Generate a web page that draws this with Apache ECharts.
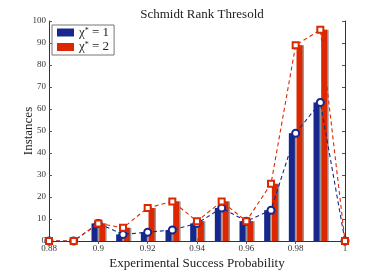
<!DOCTYPE html>
<html><head><meta charset="utf-8">
<script src="https://cdn.jsdelivr.net/npm/echarts@6/dist/echarts.min.js"></script>
<style>html,body{margin:0;padding:0;background:#fff}#c{width:381px;height:275px}</style>
</head><body><div id="c"></div>
<script>
var categories = ['0.88','0.89','0.9','0.91','0.92','0.93','0.94','0.95','0.96','0.97','0.98','0.99','1'];
var chi1 = [0,0,8,3,4,5,8,15,9,14,49,63,0];
var chi2 = [0,0,8,6,15,18,9,18,9,26,89,96,0];
var blue = '#16288c', red = '#dc2800';
var F = 'Liberation Serif';
var chart = echarts.init(document.getElementById('c'));
var axisLine = {show:true, lineStyle:{color:'#333', width:1}};
chart.setOption({
  animation:false,
  title:{text:'Schmidt Rank Thresold', left:197, top:3, textAlign:'center',
    textStyle:{fontFamily:F, fontSize:13, fontWeight:'normal', color:'#222'}},
  legend:{left:52, top:25, orient:'vertical', itemWidth:17, itemHeight:8, itemGap:1,
    padding:[1,5,1,5], backgroundColor:'#fff', borderColor:'#777', borderWidth:1, borderRadius:0,
    data:[{name:'chi1', icon:'rect'},{name:'chi2', icon:'rect'}],
    formatter:function(n){return n==='chi1' ? '{a|χ}{s|*}{a| = 1}' : '{a|χ}{s|*}{a| = 2}';},
    textStyle:{fontFamily:F, fontSize:13, color:'#222', lineHeight:12,
      rich:{a:{fontFamily:F, fontSize:13, color:'#222', lineHeight:12}, s:{fontFamily:F, fontSize:8, color:'#222', lineHeight:12, verticalAlign:'top', padding:[0,0,5,0]}}}
  },
  grid:{left:49, right:36, top:21, bottom:31},
  xAxis:[{type:'category', data:categories, boundaryGap:false,
    name:'Experimental Success Probability', nameLocation:'middle', nameGap:16, nameMoveOverlap:false,
    nameTextStyle:{fontFamily:F, fontSize:13, color:'#222'},
    axisLine:axisLine, axisTick:{show:true, inside:true, interval:1, length:3, lineStyle:{color:'#555'}},
    axisLabel:{interval:1, fontFamily:F, fontSize:9, color:'#333', margin:3},
    splitLine:{show:false}},
   {type:'category', data:categories, boundaryGap:false, position:'top',
    axisLine:axisLine, axisTick:{show:true, inside:true, interval:1, length:3, lineStyle:{color:'#555'}},
    axisLabel:{show:false}, splitLine:{show:false}}],
  yAxis:[{type:'value', min:0, max:100, interval:10,
    name:'Instances', nameLocation:'middle', nameGap:14, nameMoveOverlap:false,
    nameTextStyle:{fontFamily:F, fontSize:13, color:'#222'},
    axisLine:axisLine, axisTick:{show:true, inside:true, length:3, lineStyle:{color:'#555'}},
    axisLabel:{fontFamily:F, fontSize:9, color:'#333', margin:3},
    splitLine:{show:false}},
   {type:'value', min:0, max:100, interval:10, position:'right',
    axisLine:axisLine, axisTick:{show:true, inside:true, length:3, lineStyle:{color:'#555'}},
    axisLabel:{show:false}, splitLine:{show:false}}],
  series:[
    {name:'chi1', type:'bar', data:chi1, barWidth:6, barGap:'28%',
      itemStyle:{color:blue, shadowColor:'#999', shadowOffsetX:1.5, shadowBlur:0}},
    {name:'chi2', type:'bar', data:chi2, barWidth:6,
      itemStyle:{color:red, shadowColor:'#999', shadowOffsetX:1.5, shadowBlur:0}},
    {name:'chi1line', type:'line', data:chi1, symbol:'emptyCircle', symbolSize:7, z:5,
      lineStyle:{color:blue, width:1.1, type:[4,3]}, itemStyle:{color:blue, borderWidth:1}},
    {name:'chi2line', type:'line', data:chi2, symbol:'emptyRect', symbolSize:6, z:6,
      lineStyle:{color:red, width:1.1, type:[4,3]}, itemStyle:{color:red, borderWidth:1}}
  ]
});
</script></body></html>
